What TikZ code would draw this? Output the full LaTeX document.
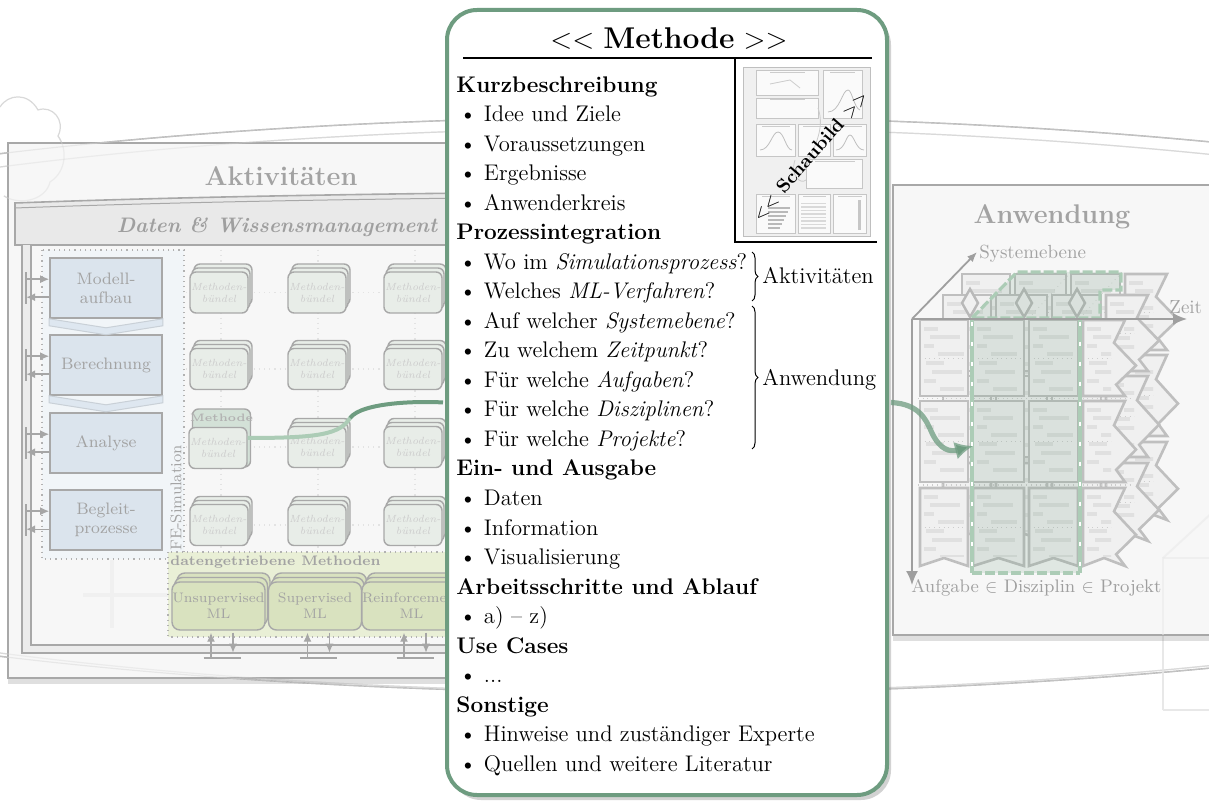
\documentclass[tikz,border=0pt]{standalone}
\usepackage{amsfonts, amssymb, amsmath}
\usepackage[dvipsnames]{xcolor}
\usepackage{tikz}
\usetikzlibrary{shadows, arrows.meta, decorations.pathreplacing}

\definecolor{gruenkarte}{RGB}{110,156,128}
\definecolor{gruenblass}{RGB}{172,204,182}
\definecolor{flaechegrau}{RGB}{247,247,247}
\definecolor{randgrau}{RGB}{168,168,168}
\definecolor{schriftgrau}{RGB}{163,163,163}
\definecolor{prozessblau}{RGB}{219,228,237}
\definecolor{chevronblau}{RGB}{208,221,234}
\definecolor{feblau}{RGB}{241,245,248}
\definecolor{buendelgruen}{RGB}{232,237,232}
\definecolor{tabgruen}{RGB}{211,225,215}
\definecolor{datengruen}{RGB}{233,239,214}
\definecolor{mlgruen}{RGB}{217,226,191}
\definecolor{zellgrau}{RGB}{240,240,240}
\definecolor{balkengrau}{RGB}{224,224,224}

\newcommand{\zelle}[6]{%
  \pgfmathsetmacro\zxa{#1}\pgfmathsetmacro\zya{#2}%
  \pgfmathsetmacro\zxb{#3}\pgfmathsetmacro\zyb{#4}%
  \pgfmathsetmacro\zh{\zyb-\zya}%
  \filldraw[zellrand] (\zxa,\zya) -- (\zxb,\zya)
    -- (\zxb-#6,\zya+0.3*\zh) -- (\zxb+#6,\zya+0.6*\zh)
    -- (\zxb-0.8*#6,\zya+0.85*\zh) -- (\zxb,\zyb)
    -- ({0.5*(\zxa+\zxb)},\zyb-#5) -- (\zxa,\zyb) -- cycle;
  \begin{scope}
    \clip (\zxa+3,\zya+3) rectangle (\zxb-#6-3,\zyb-#5-2);
    \foreach \dx/\dy/\w in {4/7/14, 10/15/30, 4/24/10, 18/32/26, 6/41/18, 12/50/30, 4/59/12, 20/67/24}
      \fill[balkengrau] (\zxa+\dx,\zya+\dy) rectangle ++(\w,4);
    \draw[zellteilung] (\zxa,\zya+0.5*\zh) -- (\zxb,\zya+0.5*\zh);
  \end{scope}}

\begin{document}
\begin{tikzpicture}[x=0.5pt, y=-0.5pt,
    every node/.style={inner sep=0pt},
    panel/.style={draw=randgrau, line width=1pt, fill=flaechegrau,
      drop shadow={shadow xshift=0pt, shadow yshift=-3pt, opacity=.25}},
    ring/.style={draw=gray!65, line width=.7pt},
    ringhell/.style={draw=gray!30, line width=.6pt},
    hausgrau/.style={draw=gray!18, line width=1pt},
    titel/.style={text=schriftgrau, font=\fontsize{13.5}{16}\selectfont\bfseries},
    band/.style={draw=randgrau, line width=.8pt, fill=gray!17},
    bandtext/.style={text=gray!75, font=\fontsize{10.5}{12}\selectfont\bfseries\itshape},
    prozessbox/.style={draw=randgrau, line width=.8pt, fill=prozessblau, minimum width=56pt,
      minimum height=30pt, align=center, text=schriftgrau, font=\fontsize{8.3}{9.5}\selectfont},
    chevron/.style={draw=prozessblau!80!gray, line width=.5pt, fill=chevronblau!70},
    buendel/.style={draw=randgrau, line width=.7pt, fill=buendelgruen, rounded corners=3pt,
      minimum width=29pt, minimum height=20.5pt, align=center, text=gray!40,
      font=\fontsize{5.2}{6}\selectfont\itshape},
    stapel/.style={preaction={draw=randgrau, fill=buendelgruen, transform canvas={shift={(2*#1,-4*#1)}}},
      preaction={draw=randgrau, fill=buendelgruen, transform canvas={shift={(#1,-2*#1)}}}},
    stapel/.default=2,
    mlbox/.style={draw=randgrau, line width=.7pt, fill=mlgruen, rounded corners=4pt,
      minimum width=46.5pt, minimum height=24pt, align=center, text=schriftgrau,
      font=\fontsize{6.9}{8}\selectfont},
    mlstapel/.style={preaction={draw=randgrau, fill=mlgruen, transform canvas={shift={(5,-9)}}},
      preaction={draw=randgrau, fill=mlgruen, transform canvas={shift={(2.5,-4.5)}}}},
    graulinie/.style={draw=gray!70, line width=.8pt},
    graupfeil/.style={draw=gray!70, line width=.7pt, -{Latex[length=4.5pt, width=4pt]}},
    punktgitter/.style={draw=gray!22, line width=.6pt, dotted},
    kreuz/.style={draw=gray!12, line width=2pt},
    zellrand/.style={draw=gray!50, line width=1.3pt, fill=zellgrau},
    zellteilung/.style={draw=gray!40, line width=.35pt, dotted},
    auswahl/.style={fill=gruenkarte, fill opacity=.17},
    auswahlrand/.style={draw=gruenblass, line width=1.6pt, dash pattern=on 5pt off 1.5pt},
    gruensaeule/.style={draw=gruenblass, line width=2pt},
    weissstrich/.style={draw=white, line width=.6pt, dash pattern=on 2pt off 8pt},
    achse/.style={draw=gray!75, line width=.9pt},
    achstext/.style={text=schriftgrau, font=\fontsize{9.5}{11}\selectfont},
    gruenlinie/.style={draw=gruenkarte, line width=2pt},
    gruenhell/.style={draw=gruenblass, line width=2pt},
    gruenpfeil/.style={draw=gruenkarte, draw opacity=.75, line width=2.6pt, -{Latex[length=9pt, width=9pt]}},
    karte/.style={draw=gruenkarte, line width=2pt, fill=white, rounded corners=15pt,
      minimum width=220pt, minimum height=392.5pt,
      drop shadow={shadow xshift=2pt, shadow yshift=-2.5pt, opacity=.35}},
    kopf/.style={anchor=base west, font=\fontsize{11.3}{13}\selectfont\bfseries},
    punkt/.style={anchor=base west, font=\fontsize{11.3}{13}\selectfont},
    trennlinie/.style={draw=black, line width=.7pt},
    klammer/.style={draw=black, line width=.5pt, decorate, decoration={brace, amplitude=3pt}},
    mini/.style={draw=gray!45, fill=gray!4, line width=.4pt}
  ]
    \useasboundingbox (0,0) rectangle (1209,801);
    \clip (0,0) rectangle (1209,801);
    \fill[white] (0,0) rectangle (1209,801);

    \draw[ring] (660,405) ellipse [x radius=1350, y radius=288];
    \draw[ringhell] (660,410) ellipse [x radius=1300, y radius=282];
    \draw[ringhell] (0,107) .. controls (8,94) and (28,92) .. (38,110)
      .. controls (52,105) and (66,120) .. (58,136) .. controls (68,150) and (66,172) .. (50,182)
      .. controls (46,200) and (20,206) .. (4,196);
    \draw[hausgrau] (1163,710) -- (1163,558) -- (1215,558);
    \draw[hausgrau] (1163,558) -- (1215,510);
    \draw[hausgrau] (1163,710) -- (1215,710);

    \draw[panel] (8,143) rectangle (470,678);
    \node[titel] (aktivitaeten) at (281,176) {Aktivitäten};
    \filldraw[band] (15,245) -- (15,203) .. controls (150,198) and (300,195) .. (470,193)
      -- (470,245) -- cycle;
    \draw[draw=randgrau, line width=.5pt] (15,208) .. controls (150,203) and (300,200) .. (470,198);
    \node[bandtext] (wissen) at (277,227) {Daten \& Wissensmanagement};
    \fill[gray!15] (22,245) rectangle (31,653);
    \fill[gray!15] (22,645) rectangle (470,653);
    \draw[draw=randgrau, line width=.7pt] (22,245) -- (22,653) -- (470,653);
    \draw[draw=randgrau, line width=.7pt] (31,245) -- (31,645) -- (470,645);
    \draw[kreuz] (112,560) -- (112,628);
    \draw[kreuz] (83,595) -- (168,595);

    \filldraw[draw=gray!60, dotted, line width=.6pt, fill=feblau] (42,250) rectangle (184,559);
    \node[text=schriftgrau, font=\fontsize{7.8}{9}\selectfont, rotate=90] (fe) at (176,498) {FE-Simulation};

    \foreach \x in {221, 318, 415}
      \draw[punktgitter] (\x,250) -- (\x,550);
    \foreach \y in {292.5, 369, 447, 525}
      \draw[punktgitter] (186,\y) -- (460,\y);

    \node[prozessbox] (modell) at (106,288) {Modell-\\aufbau};
    \node[prozessbox] (berechnung) at (106,365) {Berechnung};
    \node[prozessbox] (analyse) at (106,443) {Analyse};
    \node[prozessbox] (begleit) at (106,520) {Begleit-\\prozesse};
    \foreach \n in {modell, berechnung}
      \filldraw[chevron] (\n.south west) -- ([yshift=-4.5pt]\n.south) -- (\n.south east)
        -- ([yshift=-3.5pt]\n.south east) -- ([yshift=-8pt]\n.south) -- ([yshift=-3.5pt]\n.south west) -- cycle;
    \foreach \n in {modell, berechnung, analyse, begleit} {
      \draw[graulinie] ([xshift=-11.5pt,yshift=-7.5pt]\n.north west) -- ([xshift=-11.5pt,yshift=-23.5pt]\n.north west);
      \draw[graupfeil] ([xshift=-11.5pt,yshift=-11pt]\n.north west) -- ([yshift=-11pt]\n.north west);
      \draw[graupfeil] ([yshift=-20pt]\n.north west) -- ([xshift=-11.5pt,yshift=-20pt]\n.north west);
    }

    \foreach \s/\x in {1/219, 2/317, 3/413}
      \foreach \z/\y in {1/292.5, 2/369, 3/447, 4/525}
        {\ifnum\s\z=13 \else \node[buendel, stapel] (b\s\z) at (\x,\y) {Methoden-\\bündel}; \fi}
    \node[buendel, fill=tabgruen, minimum height=29pt] (tab) at (221.5,438) {};
    \node[text=gray!60, font=\fontsize{5.4}{6}\selectfont\bfseries] (methodetab) at (221.5,418) {Methode};
    \node[buendel] (b13) at (218,448) {Methoden-\\bündel};

    \filldraw[draw=gray!60, dotted, line width=.6pt, fill=datengruen] (168,552) rectangle (470,637);
    \node[anchor=west, text=schriftgrau, font=\fontsize{6.9}{8}\selectfont\bfseries] (datenlabel) at (170,562) {datengetriebene Methoden};
    \node[mlbox, mlstapel] (unsup) at (218.5,606) {Unsupervised\\ML};
    \node[mlbox, mlstapel] (sup) at (315,606) {Supervised\\ML};
    \node[mlbox, mlstapel] (reinf) at (411.5,606) {Reinforcement\\ML};
    \foreach \n in {unsup, sup, reinf} {
      \draw[graulinie] ([xshift=-7.5pt,yshift=-13.5pt]\n.south) -- ([xshift=11pt,yshift=-13.5pt]\n.south);
      \draw[graupfeil] ([xshift=-3.75pt,yshift=-13.5pt]\n.south) -- ([xshift=-3.75pt,yshift=-1pt]\n.south);
      \draw[graupfeil] ([xshift=7.25pt,yshift=-1pt]\n.south) -- ([xshift=7.25pt,yshift=-11pt]\n.south);
    }

    \draw[panel] (893,185) rectangle (1230,635);
    \node[titel] (anwendung) at (1052,217) {Anwendung};
    \foreach \ox/\oy in {42/-46, 23/-25, 0/0}
      \foreach \xa/\xb/\zz in {920/968/0, 973/1024/0, 1029/1078/0, 1083/1125/11}
        \foreach \ya/\yb/\pk in {320/396/0, 401/482/0, 488/566/8}
          {\zelle{\xa+\ox}{\ya+\oy}{\xb+\ox}{\yb+\oy}{\pk}{\zz}}
    \foreach \x in {970, 1024, 1077}
      \filldraw[draw=gray!55, fill=zellgrau, line width=1.2pt] (\x,289) -- (\x+8,303) -- (\x,317) -- (\x-8,303) -- cycle;
    \foreach \x in {1029, 1080}
      \draw[zellteilung] (\x,318) -- (\x+42,272);
    \draw[zellteilung, line width=.6pt] (918,398.5) -- (1132,398.5);
    \draw[zellteilung, line width=.6pt] (918,485) -- (1132,485);

    \fill[auswahl] (972,319) rectangle (1080,573);
    \fill[auswahl] (972,318) -- (1017,272) -- (1121,272) -- (1121,290) -- (1100,290) -- (1100,318) -- cycle;
    \draw[auswahlrand] (972,318) -- (1017,272) -- (1121,272) -- (1121,290) -- (1100,290) -- (1100,318) -- cycle;
    \draw[auswahlrand] (972,573) -- (1080,573);
    \foreach \x in {972, 1080} {
      \draw[gruensaeule] (\x,318) -- (\x,573);
      \draw[weissstrich] (\x,322) -- (\x,570);
    }

    \coordinate (ursprung) at (912,319);
    \coordinate (ebenenende) at (977,252);
    \coordinate (zeitende) at (1187,319);
    \coordinate (aufgabenende) at (912,585);
    \draw[achse, -{Latex[length=5pt, width=4pt]}] (ursprung) -- (ebenenende);
    \draw[achse, -{Latex[length=7pt, width=6pt]}] (ursprung) -- (zeitende);
    \draw[achse, -{Latex[length=7pt, width=6pt]}] (ursprung) -- (aufgabenende);
    \node[achstext, anchor=west] (systemebene) at (979,254) {Systemebene};
    \node[achstext, anchor=west] (zeit) at (1169,307) {Zeit};
    \node[achstext, anchor=west, font=\fontsize{9.1}{11}\selectfont] (hierarchie) at (911,588)
      {Aufgabe {\color{gray!75}$\in$ Disziplin $\in$ Projekt}};

    \draw[ringhell, draw opacity=.5] (660,405) ellipse [x radius=1350, y radius=288];
    \draw[ringhell, draw opacity=.4] (660,410) ellipse [x radius=1300, y radius=282];
    \draw[ringhell, draw opacity=.4] (58,136) .. controls (68,150) and (66,172) .. (50,182)
      .. controls (46,200) and (20,206) .. (4,196);
    \draw[hausgrau, draw opacity=.5] (1163,635) -- (1163,558) -- (1215,558);
    \draw[hausgrau, draw opacity=.5] (1163,558) -- (1215,510);

    \node[karte] (karte) at (667,402.5) {};
    \coordinate (knick) at (350,418);
    \coordinate (ziel) at (973,446);
    \draw[gruenhell] ([yshift=5pt]b13.east) .. controls (320,438) and (340,434) .. (knick);
    \draw[gruenlinie] (knick) .. controls (362,402) and (420,401) .. ([xshift=-1pt]karte.west);
    \draw[gruenpfeil] ([xshift=1pt]karte.east) .. controls (920,404) and (926,420) .. (932,433)
      .. controls (940,450) and (950,452) .. (ziel);

    \node[font=\fontsize{15}{18}\selectfont] (kartentitel) at (669,38) {$<<$ \textbf{Methode} $>>$};
    \draw[trennlinie] (463,58) -- (872,58);
    \draw[trennlinie] (735,58) -- (735,242) -- (877,242);

    \fill[gray!12] (743,67) rectangle (870,236);
    \draw[draw=gray!50, line width=.4pt] (743,67) rectangle (870,236);
    \foreach \a/\b/\c/\d in {756/70/818/95, 756/98/818/118, 823/70/862/118, 756/124/795/156,
        798/124/830/156, 833/124/866/156, 806/159/862/188, 756/194/795/233, 798/194/830/233, 833/194/866/233}
      \filldraw[mini] (\a,\b) rectangle (\c,\d);
    \foreach \a/\b/\c in {770/73/805, 770/100/805, 830/73/855, 762/127/790, 803/127/826, 838/127/862,
        815/162/855, 762/197/790, 803/197/826, 838/197/862}
      \draw[gray!40, line width=.5pt] (\a,\b) -- (\c,\b);
    \draw[gray!50, line width=.4pt] (760,150) .. controls (770,150) and (772,132) .. (778,132)
      .. controls (784,132) and (786,150) .. (792,150);
    \draw[gray!50, line width=.4pt] (836,150) .. controls (845,150) and (846,135) .. (850,135)
      .. controls (854,135) and (856,150) .. (864,150);
    \draw[gray!50, line width=.4pt] (828,112) .. controls (840,112) and (842,90) .. (848,90)
      .. controls (852,90) and (854,108) .. (860,110);
    \foreach \i in {0,...,5}
      \fill[gray!55] (768,207+4*\i) rectangle ++(22-2*\i,2.5);
    \foreach \i in {0,...,7}
      \fill[gray!30] (801,203+3.5*\i) rectangle ++(25,1.5);
    \fill[gray!45] (858,200) rectangle (861,230);
    \draw[gray!40, line width=.4pt] (770,84) -- (790,80) -- (800,88);
    \draw[gray!40, line width=.4pt] (795,160) .. controls (790,175) and (800,185) .. (806,180);
    \draw[gray!40, line width=.4pt] (818,108) .. controls (826,130) and (812,150) .. (806,168);
    \node[rotate=49, font=\fontsize{9.5}{11}\selectfont\bfseries] (schaubild) at (810,156) {$<<$ Schaubild $>>$};

    \node[kopf] (kurz) at (456,92.5) {Kurzbeschreibung};
    \node[punkt] (idee) at (459,122) {\textbullet\ Idee und Ziele};
    \node[punkt] (voraus) at (459,151.5) {\textbullet\ Voraussetzungen};
    \node[punkt] (ergebnisse) at (459,181) {\textbullet\ Ergebnisse};
    \node[punkt] (anwender) at (459,210.5) {\textbullet\ Anwenderkreis};
    \node[kopf] (prozess) at (456,240) {Prozessintegration};
    \node[punkt] (wo) at (459,269.5) {\textbullet\ Wo im \textit{Simulationsprozess}?};
    \node[punkt] (welches) at (459,299) {\textbullet\ Welches \textit{ML-Verfahren}?};
    \node[punkt] (ebene) at (459,328.5) {\textbullet\ Auf welcher \textit{Systemebene}?};
    \node[punkt] (zeitpunkt) at (459,358) {\textbullet\ Zu welchem \textit{Zeitpunkt}?};
    \node[punkt] (aufgaben) at (459,387.5) {\textbullet\ Für welche \textit{Aufgaben}?};
    \node[punkt] (disziplinen) at (459,417) {\textbullet\ Für welche \textit{Disziplinen}?};
    \node[punkt] (projekte) at (459,446.5) {\textbullet\ Für welche \textit{Projekte}?};
    \node[kopf] (einaus) at (456,476) {Ein- und Ausgabe};
    \node[punkt] (daten) at (459,505.5) {\textbullet\ Daten};
    \node[punkt] (information) at (459,535) {\textbullet\ Information};
    \node[punkt] (visual) at (459,564.5) {\textbullet\ Visualisierung};
    \node[kopf] (arbeit) at (456,594) {Arbeitsschritte und Ablauf};
    \node[punkt] (az) at (459,623.5) {\textbullet\ a) -- z)};
    \node[kopf] (usecases) at (456,653) {Use Cases};
    \node[punkt] (punkte) at (459,682.5) {\textbullet\ ...};
    \node[kopf] (sonstige) at (456,712) {Sonstige};
    \node[punkt] (hinweise) at (459,741.5) {\textbullet\ Hinweise und zuständiger Experte};
    \node[punkt] (quellen) at (459,771) {\textbullet\ Quellen und weitere Literatur};

    \draw[klammer] (752,252) -- (752,301);
    \draw[klammer] (752,306) -- (752,449);
    \node[punkt] (aktlabel) at (762,284) {Aktivitäten};
    \node[punkt] (anwlabel) at (762,385.5) {Anwendung};
\end{tikzpicture}
\end{document}
